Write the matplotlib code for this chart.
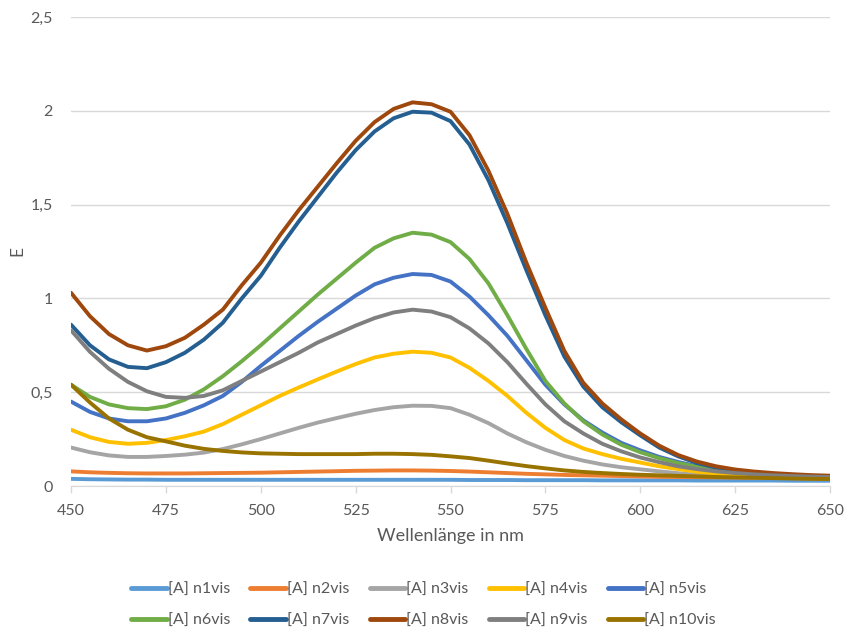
import matplotlib
matplotlib.use("Agg")
import matplotlib.pyplot as plt
from matplotlib.ticker import FuncFormatter

wavelength = [450, 455, 460, 465, 470, 475, 480, 485, 490, 495,
              500, 505, 510, 515, 520, 525, 530, 535, 540, 545,
              550, 555, 560, 565, 570, 575, 580, 585, 590, 595,
              600, 605, 610, 615, 620, 625, 630, 635, 640, 645, 650]

n1 = [0.038, 0.036, 0.035, 0.034, 0.034, 0.033, 0.033, 0.033, 0.033, 0.033,
      0.033, 0.033, 0.033, 0.033, 0.033, 0.033, 0.033, 0.033, 0.033, 0.033,
      0.033, 0.032, 0.032, 0.032, 0.031, 0.031, 0.031, 0.031, 0.030, 0.030,
      0.030, 0.030, 0.030, 0.029, 0.029, 0.029, 0.029, 0.029, 0.028, 0.028, 0.028]
n2 = [0.078, 0.073, 0.070, 0.068, 0.067, 0.067, 0.067, 0.068, 0.069, 0.070,
      0.071, 0.073, 0.075, 0.077, 0.079, 0.081, 0.082, 0.083, 0.083, 0.082,
      0.080, 0.077, 0.073, 0.069, 0.065, 0.062, 0.059, 0.057, 0.055, 0.053,
      0.051, 0.049, 0.048, 0.047, 0.046, 0.045, 0.044, 0.043, 0.042, 0.041, 0.040]
n3 = [0.205, 0.180, 0.163, 0.155, 0.155, 0.160, 0.167, 0.178, 0.197, 0.222,
      0.250, 0.280, 0.310, 0.338, 0.362, 0.385, 0.405, 0.420, 0.428, 0.427,
      0.415, 0.380, 0.335, 0.280, 0.233, 0.193, 0.160, 0.135, 0.115, 0.100,
      0.089, 0.078, 0.068, 0.060, 0.054, 0.050, 0.046, 0.044, 0.042, 0.040, 0.039]
n4 = [0.300, 0.260, 0.235, 0.225, 0.230, 0.245, 0.265, 0.290, 0.330, 0.380,
      0.430, 0.480, 0.525, 0.568, 0.610, 0.650, 0.685, 0.705, 0.716, 0.710,
      0.685, 0.630, 0.560, 0.480, 0.390, 0.310, 0.245, 0.200, 0.170, 0.145,
      0.125, 0.105, 0.090, 0.076, 0.066, 0.058, 0.052, 0.048, 0.045, 0.042, 0.040]
n5 = [0.450, 0.395, 0.360, 0.345, 0.345, 0.360, 0.390, 0.430, 0.480, 0.555,
      0.640, 0.720, 0.800, 0.875, 0.945, 1.015, 1.075, 1.110, 1.130, 1.125,
      1.090, 1.010, 0.910, 0.800, 0.670, 0.540, 0.435, 0.350, 0.285, 0.230,
      0.190, 0.155, 0.128, 0.105, 0.088, 0.076, 0.067, 0.060, 0.055, 0.051, 0.048]
n6 = [0.540, 0.475, 0.435, 0.415, 0.410, 0.425, 0.460, 0.515, 0.585, 0.665,
      0.750, 0.840, 0.930, 1.020, 1.105, 1.190, 1.270, 1.320, 1.350, 1.340,
      1.300, 1.210, 1.080, 0.910, 0.730, 0.560, 0.440, 0.345, 0.275, 0.220,
      0.180, 0.148, 0.122, 0.102, 0.088, 0.077, 0.068, 0.062, 0.057, 0.053, 0.050]
n7 = [0.860, 0.750, 0.675, 0.635, 0.628, 0.660, 0.710, 0.780, 0.870, 1.000,
      1.120, 1.270, 1.410, 1.540, 1.670, 1.790, 1.890, 1.960, 1.995, 1.990,
      1.945, 1.820, 1.630, 1.400, 1.150, 0.910, 0.690, 0.530, 0.420, 0.340,
      0.270, 0.205, 0.158, 0.122, 0.098, 0.082, 0.072, 0.065, 0.059, 0.054, 0.051]
n8 = [1.030, 0.905, 0.810, 0.750, 0.722, 0.745, 0.790, 0.860, 0.940, 1.070,
      1.190, 1.335, 1.470, 1.595, 1.720, 1.840, 1.940, 2.010, 2.045, 2.035,
      1.995, 1.870, 1.680, 1.450, 1.190, 0.950, 0.720, 0.550, 0.440, 0.355,
      0.280, 0.215, 0.165, 0.130, 0.105, 0.088, 0.077, 0.069, 0.063, 0.058, 0.055]
n9 = [0.830, 0.715, 0.625, 0.555, 0.505, 0.475, 0.470, 0.480, 0.510, 0.560,
      0.610, 0.660, 0.710, 0.765, 0.810, 0.855, 0.895, 0.925, 0.940, 0.930,
      0.900, 0.840, 0.760, 0.660, 0.545, 0.435, 0.345, 0.280, 0.225, 0.185,
      0.152, 0.127, 0.105, 0.090, 0.078, 0.069, 0.062, 0.057, 0.053, 0.050, 0.048]
n10 = [0.540, 0.445, 0.360, 0.300, 0.260, 0.238, 0.215, 0.198, 0.187, 0.179,
       0.174, 0.172, 0.170, 0.170, 0.170, 0.170, 0.172, 0.172, 0.170, 0.166,
       0.158, 0.149, 0.135, 0.120, 0.106, 0.094, 0.083, 0.075, 0.069, 0.064,
       0.060, 0.057, 0.054, 0.051, 0.048, 0.046, 0.044, 0.042, 0.040, 0.038, 0.037]

series = [n1, n2, n3, n4, n5, n6, n7, n8, n9, n10]
labels = ["[A] n%dvis" % i for i in range(1, 11)]
colors = ["#5B9BD5", "#ED7D31", "#A5A5A5", "#FFC000", "#4472C4",
          "#70AD47", "#255E91", "#9E480E", "#7F7F7F", "#997300"]

plt.rcParams['font.family'] = ['Lato', 'DejaVu Sans']
txt = "#595959"
grid = "#D9D9D9"

fig = plt.figure(figsize=(8.44, 6.33), dpi=100)
ax = fig.add_axes([71/844, 1 - 486/633, (830 - 71)/844, (486 - 17)/633])

lines = []
for y, lab, c in zip(series, labels, colors):
    ln, = ax.plot(wavelength, y, color=c, lw=2.8, label=lab,
                  solid_capstyle='round', solid_joinstyle='round')
    lines.append(ln)

ax.set_xlim(450, 650)
ax.set_ylim(0, 2.5)
ax.set_xticks(range(450, 651, 25))
ax.set_yticks([0, 0.5, 1, 1.5, 2, 2.5])
ax.yaxis.set_major_formatter(FuncFormatter(lambda v, p: ("%g" % v).replace(".", ",")))
ax.grid(axis='y', color=grid, lw=1)
ax.set_axisbelow(True)
for s in ['top', 'left', 'right']:
    ax.spines[s].set_visible(False)
ax.spines['bottom'].set_color(grid)
ax.tick_params(axis='x', colors=grid, length=5, width=1, labelcolor=txt,
               labelsize=11.5, pad=8)
ax.tick_params(axis='y', length=0, labelcolor=txt, labelsize=11.5, pad=13)

ax.set_xlabel("Wellenlänge in nm", color=txt, fontsize=13, labelpad=7)
ax.set_ylabel("E", color=txt, fontsize=12.5, labelpad=4)

# legend filled column-wise, so reorder to get row-wise layout
order = [0, 5, 1, 6, 2, 7, 3, 8, 4, 9]
leg = fig.legend([lines[i] for i in order], [labels[i] for i in order],
                 loc='center', bbox_to_anchor=(0.502, 1 - 605/633), ncol=5,
                 frameon=False, fontsize=11.5, handlelength=2.2,
                 handletextpad=0.1, columnspacing=1.25, labelspacing=1.05)
for t in leg.get_texts():
    t.set_color(txt)
for h in leg.legend_handles:
    h.set_linewidth(3.5)

fig.savefig("out.png", dpi=100)
